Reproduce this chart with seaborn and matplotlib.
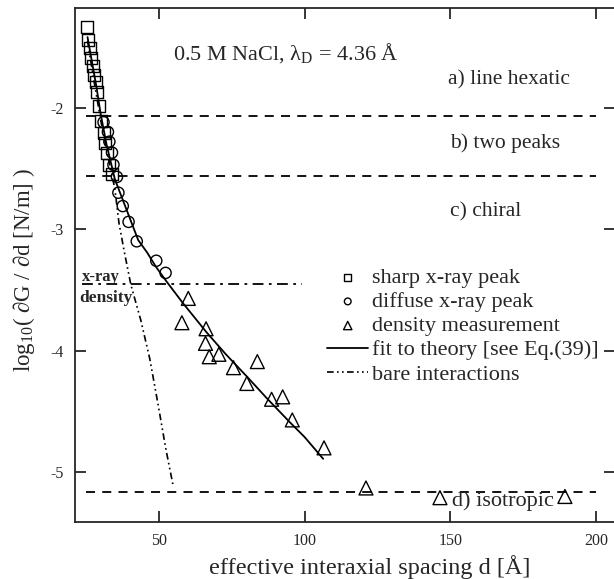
import numpy as np
import pandas as pd
import seaborn as sns
import matplotlib
matplotlib.use("Agg")
import matplotlib.pyplot as plt

# sharp x-ray peak (squares)
sq_d = [25.4, 25.8, 26.2, 26.7, 27.3, 27.8, 28.5, 28.9, 29.3, 30.1, 31.0, 31.6, 32.1, 33.0, 33.9]
sq_y = [-1.34, -1.44, -1.51, -1.59, -1.66, -1.73, -1.79, -1.87, -1.99, -2.11, -2.21, -2.29, -2.37, -2.47, -2.55]

# diffuse x-ray peak (circles)
ci_d = [31.0, 32.5, 33.0, 33.9, 34.4, 35.6, 36.1, 37.6, 39.6, 42.4, 49.1, 52.3]
ci_y = [-2.12, -2.20, -2.28, -2.37, -2.47, -2.57, -2.70, -2.81, -2.94, -3.10, -3.26, -3.36]

# density measurement (triangles)
tr_d = [57.9, 60.1, 66.2, 66.0, 67.3, 70.6, 75.6, 80.2, 83.8, 88.7, 92.5, 95.8, 106.7, 121.1, 146.5, 189.4]
tr_y = [-3.77, -3.57, -3.82, -3.94, -4.05, -4.03, -4.14, -4.27, -4.09, -4.40, -4.38, -4.57, -4.80, -5.13, -5.21, -5.20]

# fit to theory
fit_d = [25.5, 27.0, 28.5, 30.0, 32.0, 34.9, 38.9, 42.9, 45.9, 49.0, 52.6, 58.3, 66.4, 73.0, 80.1, 87.0, 95.0, 100.0, 106.4]
fit_y = [-1.42, -1.62, -1.82, -2.05, -2.30, -2.59, -2.84, -3.09, -3.19, -3.31, -3.43, -3.61, -3.85, -4.03, -4.21, -4.39, -4.59, -4.71, -4.89]

# bare interactions
bare_d = [25.5, 27.5, 30.0, 32.5, 34.9, 36.3, 38.0, 40.4, 43.8, 46.9, 49.7, 52.4, 54.8]
bare_y = [-1.45, -1.75, -2.10, -2.40, -2.67, -2.95, -3.17, -3.46, -3.75, -4.07, -4.44, -4.81, -5.10]

# phase boundaries
bound_y = [-2.07, -2.56, -5.16]
xray_y = -3.45

sns.set_theme(style="ticks")
plt.rcParams["font.family"] = ["Liberation Serif", "DejaVu Serif"]
plt.rcParams["mathtext.fontset"] = "custom"
plt.rcParams["mathtext.rm"] = "Liberation Serif"
plt.rcParams["axes.unicode_minus"] = False

fig = plt.figure(figsize=(6.14, 5.79), dpi=100)
ax = fig.add_axes([75 / 614, 1 - 522 / 579, 540 / 614, 514 / 579])

for yb in bound_y:
    ax.plot([25, 200], [yb, yb], color="black", lw=1.3, ls=(0, (5, 4)))
ax.plot([23.6, 99], [xray_y, xray_y], color="black", lw=1.3, ls=(0, (6, 3, 1.5, 3)))

sns.scatterplot(x=sq_d, y=sq_y, marker="s", s=75, facecolor="none", edgecolor="black",
                linewidth=1.0, label="sharp x-ray peak", ax=ax, zorder=3)
sns.scatterplot(x=ci_d, y=ci_y, marker="o", s=65, facecolor="none", edgecolor="black",
                linewidth=1.0, label="diffuse x-ray peak", ax=ax, zorder=3)
sns.scatterplot(x=tr_d, y=tr_y, marker="^", s=100, facecolor="none", edgecolor="black",
                linewidth=1.0, label="density measurement", ax=ax, zorder=3)
sns.lineplot(x=fit_d, y=fit_y, color="black", lw=1.3, sort=False, estimator=None,
             label="fit to theory [see Eq.(39)]", ax=ax)
sns.lineplot(x=bare_d, y=bare_y, color="black", lw=1.2, sort=False, estimator=None,
             ls=(0, (4, 2, 1, 2, 1, 2)), label="bare interactions", ax=ax)

ax.set_xlim(21.2, 206.6)
ax.set_ylim(-5.41, -1.18)
ax.set_xticks([50, 100, 150, 200])
ax.set_yticks([-5, -4, -3, -2])
ax.tick_params(direction="in", length=8, width=1.3, top=True, right=True,
               labelsize=11.5, pad=8)
for sp in ax.spines.values():
    sp.set_linewidth(1.3)

ax.set_xlabel("effective interaxial spacing d [Å]", fontsize=17.5)
ax.xaxis.set_label_coords(0.546, -0.064)
ax.set_ylabel("log$_{10}$( ∂G / ∂d [N/m] )", fontsize=16.5, va="center")
ax.yaxis.set_label_coords(-0.095, 0.49)

ax.text(54.8, -1.56, "0.5 M NaCl, λ$_{\\mathrm{D}}$ = 4.36 Å", fontsize=16, va="center")
ax.text(149.3, -1.77, "a) line hexatic", fontsize=15.5, va="center")
ax.text(150.0, -2.29, "b) two peaks", fontsize=15.5, va="center")
ax.text(150.0, -2.86, "c) chiral", fontsize=15.5, va="center")
ax.text(150.5, -5.24, "d) isotropic", fontsize=16, va="center")
ax.text(23.6, -3.39, "x-ray", fontsize=12, fontweight="bold", va="center")
ax.text(22.6, -3.57, "density", fontsize=12.5, fontweight="bold", va="center")

leg = ax.legend(loc="upper left", bbox_to_anchor=(0.467, 0.495), frameon=False,
                fontsize=16, markerscale=0.6, handlelength=1.85, handletextpad=0.15,
                borderpad=0, borderaxespad=0, labelspacing=0.16)

fig.savefig("out.png", dpi=100)
